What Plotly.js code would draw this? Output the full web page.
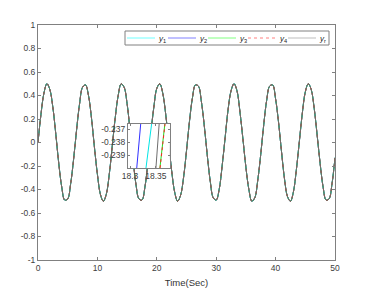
<!DOCTYPE html>
<html><head><meta charset="utf-8">
<script src="https://cdn.plot.ly/plotly-3.0.1.min.js"></script>
<style>html,body{margin:0;padding:0;background:#fff}#c{width:390px;height:305px}</style>
</head><body><div id="c"></div>
<script>
var time = [];
for (var i = 0; i <= 100; i++) time.push(i * 0.5);
var response = [0,.24,.42,.50,.45,.30,.07,-.18,-.38,-.49,-.48,-.35,-.14,.11,.33,.47,.49,.40,.21,-.04,-.27,-.44,-.50,-.44,-.27,-.03,.21,.40,.50,.47,.33,.10,-.14,-.36,-.48,-.49,-.38,-.17,.08,.30,.46,.50,.42,.24,.00,-.24,-.42,-.50,-.45,-.30,-.07,.18,.38,.49,.48,.35,.14,-.11,-.33,-.47,-.49,-.40,-.20,.04,.28,.44,.50,.44,.26,.03,-.21,-.40,-.50,-.47,-.32,-.10,.15,.36,.48,.49,.37,.17,-.08,-.31,-.46,-.50,-.42,-.23,.01,.25,.43,.50,.45,.29,.06,-.18,-.38,-.49,-.48,-.35,-.13];
var seriesNames = ['<i>y</i><sub>1</sub>','<i>y</i><sub>2</sub>','<i>y</i><sub>3</sub>','<i>y</i><sub>4</sub>','<i>y</i><sub>r</sub>'];
var seriesColors = ['#00e5e5','#3030ff','#22dd22','#ff2020','#6e6e6e'];
var legendColors = ['#70ffff','#8080ff','#80ff80','#ff8080','#bdbdbd'];
var seriesDash = ['solid','solid','solid','dot','solid'];
// zoomed inset: [x at y=-0.2400, x at y=-0.2366]
var insetY = [-0.2400, -0.2366];
var insetX1 = [18.3308, 18.3417];
var insetX2 = [18.3129, 18.3206];
var insetX3 = [18.3577, 18.3673];
var insetX4 = [18.3580, 18.3676];
var insetX5 = [18.3500, 18.3563];
var insetXs = [insetX1, insetX2, insetX3, insetX4, insetX5];

var yTicks = [-1,-0.8,-0.6,-0.4,-0.2,0,0.2,0.4,0.6,0.8,1];
var yTickText = ['-1','-0.8','-0.6','-0.4','-0.2','0','0.2','0.4','0.6','0.8','1'];
var xTicks = [0,10,20,30,40,50];
var insetXTicks = [18.3, 18.35];
var insetXText = ['18.3','18.35'];
var insetYTicks = [-0.239,-0.238,-0.237];
var insetYText = ['-0.239','-0.238','-0.237'];

var traces = [];
for (var k = 0; k < 5; k++) {
  traces.push({x: time, y: response, type:'scatter', mode:'lines', name: seriesNames[k], showlegend:false,
    line:{color: seriesColors[k], width:1, dash: seriesDash[k], shape:'spline', smoothing:1}, xaxis:'x', yaxis:'y'});
}
for (var k = 0; k < 5; k++) {
  traces.push({x: insetXs[k], y: insetY, type:'scatter', mode:'lines', showlegend:false,
    line:{color: seriesColors[k], width:1, dash: seriesDash[k]}, xaxis:'x2', yaxis:'y2'});
}
// custom legend box (pixel layout -> paper coords)
var L = 38, R = 335, T = 25, B = 260;
function px(x){ return (x - L) / (R - L); }
function py(y){ return (B - y) / (B - T); }
var shapes = [{type:'rect', xref:'paper', yref:'paper', x0:px(125), x1:px(329), y0:py(45), y1:py(31),
  line:{color:'#808080', width:1}, fillcolor:'#fff', layer:'above'}];
var annotations = [];
var legX = [127, 168, 208, 248, 288];
for (var k = 0; k < 5; k++) {
  shapes.push({type:'line', xref:'paper', yref:'paper', x0:px(legX[k]), x1:px(legX[k]+28), y0:py(38), y1:py(38),
    line:{color: legendColors[k], width:1, dash: seriesDash[k]}, layer:'above'});
  annotations.push({xref:'paper', yref:'paper', x:px(legX[k]+30), y:py(38.5), xanchor:'left', yanchor:'middle',
    text: seriesNames[k], showarrow:false, borderpad:0, font:{size:8, color:'#222'}});
}
var ax = {showline:true, linecolor:'#808080', linewidth:1, mirror:'ticks', ticks:'inside', ticklen:3,
  tickcolor:'#808080', showgrid:false, zeroline:false, tickfont:{size:8.5, color:'#404040'}};
var layout = {
  width:390, height:305, margin:{l:L, r:390-R, t:T, b:305-B},
  paper_bgcolor:'#fff', plot_bgcolor:'#fff',
  font:{family:'Liberation Sans, Arial, sans-serif', color:'#404040'},
  showlegend:false, shapes: shapes, annotations: annotations,
  xaxis: Object.assign({}, ax, {range:[0,50], tickvals:xTicks, domain:[0,1],
    title:{text:'Time(Sec)', font:{size:9.5, color:'#333'}, standoff:7}}),
  yaxis: Object.assign({}, ax, {range:[-1,1], tickvals:yTicks, ticktext:yTickText, domain:[0,1]}),
  xaxis2: Object.assign({}, ax, {anchor:'y2', range:[18.296,18.377], tickvals:insetXTicks, ticktext:insetXText, domain:[0.303,0.444], ticklen:2}),
  yaxis2: Object.assign({}, ax, {anchor:'x2', range:[-0.2400,-0.2366], tickvals:insetYTicks, ticktext:insetYText, domain:[0.391,0.579], ticklen:2})
};
Plotly.newPlot('c', traces, layout, {displayModeBar:false, staticPlot:true});
</script></body></html>
